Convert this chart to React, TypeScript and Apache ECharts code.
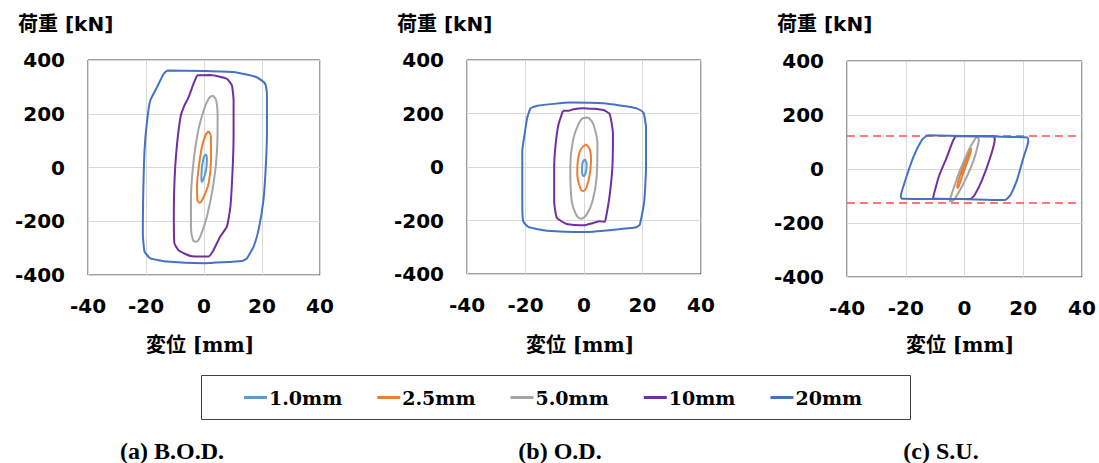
import React, { useEffect, useRef } from "react";
import * as echarts from "echarts";

const seriesNames = ["1.0mm", "2.5mm", "5.0mm", "10mm", "20mm"];
const seriesColors = ["#5B9BD5", "#ED7D31", "#A5A5A5", "#7030A0", "#4472C4"];
const xTicks = [-40, -20, 0, 20, 40];
const yTicks = [-400, -200, 0, 200, 400];
const panelCaptions = ["(a) B.O.D.", "(b) O.D.", "(c) S.U."];
const yieldLoad = [125, -125];

// (a) B.O.D.
const bod1 = [[0.7, 49], [1.0, 33], [0.7, -10], [-0.1, -41], [-0.7, -53], [-0.9, -41], [-0.7, 2], [0, 40], [0.7, 49]];
const bod25 = [[1.6, 136], [2.4, 114], [2.4, 27], [1.6, -59], [-0.1, -109], [-1.5, -131], [-2.3, -121], [-2.4, -72], [-1.8, 2], [-0.7, 77], [0.5, 120], [1.6, 136]];
const bod5 = [[3.0, 268], [4.2, 250], [4.7, 188], [4.5, 64], [3.3, -59], [1.0, -183], [-1.3, -257], [-2.6, -276], [-3.8, -270], [-4.5, -220], [-4.5, -121], [-3.8, 2], [-2.2, 126], [-0.1, 213], [1.6, 256], [3.0, 268]];
const bod10 = [[-2.4, 343], [2.2, 344], [7.9, 330], [9.6, 306], [10.2, 250], [10.2, 126], [9.9, 2], [9.1, -146], [7.9, -220], [5.6, -257], [3.3, -307], [1.6, -331], [-0.1, -331], [-4.7, -329], [-8.7, -309], [-10.2, -282], [-10.4, -183], [-10.2, -59], [-9.5, 64], [-8.1, 188], [-7.0, 225], [-5.3, 262], [-3.6, 312], [-2.4, 343]];
const bod20 = [[-12.7, 361], [-0.1, 359], [10.2, 355], [18.2, 336], [21.1, 312], [21.7, 275], [21.7, 126], [21.3, 2], [20.5, -121], [18.8, -233], [17.1, -294], [14.8, -338], [13.1, -348], [-0.1, -356], [-12.7, -350], [-18.5, -338], [-20.5, -313], [-21.1, -245], [-21.0, -121], [-20.5, 64], [-19.6, 176], [-18.5, 250], [-16.2, 299], [-13.9, 349], [-12.7, 361]];

// (b) O.D.
const od1 = [[0.3, 29], [0.9, 10], [0.6, -21], [-0.2, -34], [-0.7, -17], [-0.5, 16], [0.3, 29]];
const od25 = [[0.7, 85], [2.0, 66], [2.4, 23], [1.5, -52], [-0.2, -90], [-1.1, -84], [-2.3, -27], [-2.1, 23], [-1.1, 66], [0.7, 85]];
const od5 = [[1.5, 185], [3.2, 160], [4.6, 85], [4.3, -40], [2.9, -128], [0.9, -178], [-1.1, -193], [-2.7, -178], [-4.2, -128], [-4.7, -2], [-3.8, 98], [-1.9, 160], [-0.2, 183], [1.5, 185]];
const od10 = [[-7.2, 210], [-5.3, 210], [-3.6, 216], [-0.2, 220], [6.6, 213], [8.8, 198], [9.9, 123], [9.7, -2], [8.8, -103], [7.7, -178], [7.1, -205], [5.4, -203], [3.2, -209], [-0.2, -218], [-5.9, -213], [-9.3, -190], [-10.2, -128], [-10.2, -2], [-9.7, 85], [-8.7, 160], [-7.2, 210]];
const od20 = [[-18.3, 220], [-16.0, 229], [-4.7, 241], [6.6, 238], [17.9, 220], [20.3, 204], [21.2, 148], [21.2, -2], [20.6, -128], [19.1, -215], [17.9, -225], [13.3, -231], [0.9, -243], [-12.7, -238], [-18.9, -225], [-20.8, -203], [-21.1, -128], [-21.1, 60], [-20.3, 123], [-19.4, 185], [-18.3, 220]];

// (c) S.U.
const su1 = [[0.6, 41], [-0.8, -15], [-1.1, -21], [-0.8, -2], [0.6, 41]];
const su25 = [[2.3, 78], [2.0, 59], [-0.8, -27], [-2.2, -70], [-2.5, -67], [-1.6, -27], [0.9, 47], [2.3, 78]];
const su5 = [[4.3, 121], [4.9, 109], [3.2, 35], [-0.8, -64], [-3.6, -114], [-5.1, -121], [-4.8, -107], [-1.9, -15], [1.5, 72], [3.8, 115], [4.3, 121]];
const su10 = [[-3.1, 121], [10.0, 121], [10.3, 109], [8.9, 47], [6.0, -40], [3.5, -95], [2.0, -111], [-10.7, -110], [-10.3, -89], [-8.7, -27], [-5.9, 47], [-4.0, 102], [-3.1, 121]];
const su20 = [[-12.7, 125], [10.6, 120], [21.4, 117], [21.7, 102], [20.2, 47], [17.9, -40], [15.7, -95], [14.0, -114], [11.7, -115], [-0.8, -111], [-21.3, -110], [-21.7, -101], [-20.1, -40], [-17.3, 47], [-14.4, 109], [-12.7, 125]];

const panels = [
  [bod1, bod25, bod5, bod10, bod20],
  [od1, od25, od5, od10, od20],
  [su1, su25, su5, su10, su20],
];

const grids = [
  { left: 88, top: 60, width: 232, height: 215 },
  { left: 467, top: 60, width: 234, height: 214 },
  { left: 847, top: 61, width: 235, height: 216 },
];
const yTitleLeft = [18, 397, 777];
const xTitleCenter = [200, 580, 960];
const captionCenter = [172, 560, 941];

export default function App() {
  const ref = useRef<HTMLDivElement>(null);
  useEffect(() => {
    if (!ref.current) return;
    const chart = echarts.init(ref.current, null, { renderer: "svg" });
    const tickFont = { fontFamily: "DejaVu Sans", fontWeight: "bold", fontSize: 20, color: "#000" };
    const series: any[] = [];
    panels.forEach((loops, p) => {
      loops.forEach((data, i) => {
        const s: any = {
          type: "line",
          name: seriesNames[i],
          xAxisIndex: p,
          yAxisIndex: p,
          data,
          symbol: "none",
          smooth: i < 3 && p < 2 ? 0.35 : 0.15,
          lineStyle: { color: seriesColors[i], width: 2 },
          itemStyle: { color: seriesColors[i] },
          z: 2 + i,
        };
        if (p === 2 && i === 4) {
          s.markLine = {
            silent: true,
            symbol: "none",
            label: { show: false },
            lineStyle: { color: "#FF4B4B", type: [8, 5], width: 1.5 },
            data: yieldLoad.map((v) => ({ yAxis: v })),
          };
        }
        series.push(s);
      });
    });
    const graphic: any[] = [];
    for (let p = 0; p < 3; p++) {
      graphic.push({
        type: "text",
        left: yTitleLeft[p],
        top: 14,
        style: { text: "荷重 [kN]", font: "bold 20px 'DejaVu Sans', 'Noto Sans CJK JP'", fill: "#000" },
      });
      graphic.push({
        type: "text",
        x: xTitleCenter[p],
        y: 345,
        style: { text: "変位 [mm]", font: "bold 20px 'DejaVu Serif', 'Noto Sans CJK JP'", fill: "#000", align: "center", verticalAlign: "middle" },
      });
      graphic.push({
        type: "text",
        x: captionCenter[p],
        y: 451,
        style: { text: panelCaptions[p], font: "bold 24px 'Liberation Serif'", fill: "#000", align: "center", verticalAlign: "middle" },
      });
    }
    graphic.push({
      type: "rect",
      shape: { x: 201.5, y: 375.5, width: 709, height: 44 },
      style: { fill: "none", stroke: "#404040", lineWidth: 1 },
    });
    chart.setOption({
      animation: false,
      backgroundColor: "#fff",
      grid: grids.map((g) => ({ ...g, show: true, borderColor: "#404040", borderWidth: 1, backgroundColor: "transparent" })),
      xAxis: grids.map((_, p) => ({
        type: "value",
        gridIndex: p,
        min: xTicks[0],
        max: xTicks[xTicks.length - 1],
        interval: 20,
        axisLine: { show: false },
        axisTick: { show: false },
        splitLine: { show: true, lineStyle: { color: "#D9D9D9", width: 1 } },
        axisLabel: { ...tickFont, margin: 21, showMinLabel: true, showMaxLabel: true },
      })),
      yAxis: grids.map((_, p) => ({
        type: "value",
        gridIndex: p,
        min: yTicks[0],
        max: yTicks[yTicks.length - 1],
        interval: 200,
        axisLine: { show: false },
        axisTick: { show: false },
        splitLine: { show: true, lineStyle: { color: "#D9D9D9", width: 1 } },
        axisLabel: { ...tickFont, margin: 23 },
      })),
      legend: {
        data: seriesNames,
        left: 244,
        top: 388,
        padding: 0,
        icon: "rect",
        itemWidth: 23,
        itemHeight: 3,
        itemGap: 35,
        textStyle: { fontFamily: "DejaVu Serif", fontWeight: "bold", fontSize: 19, color: "#000", padding: [0, 0, 0, -3] },
      },
      graphic,
      series,
    });
    return () => chart.dispose();
  }, []);
  return <div ref={ref} style={{ position: "fixed", left: 0, top: 0, width: 1099, height: 463 }} />;
}
